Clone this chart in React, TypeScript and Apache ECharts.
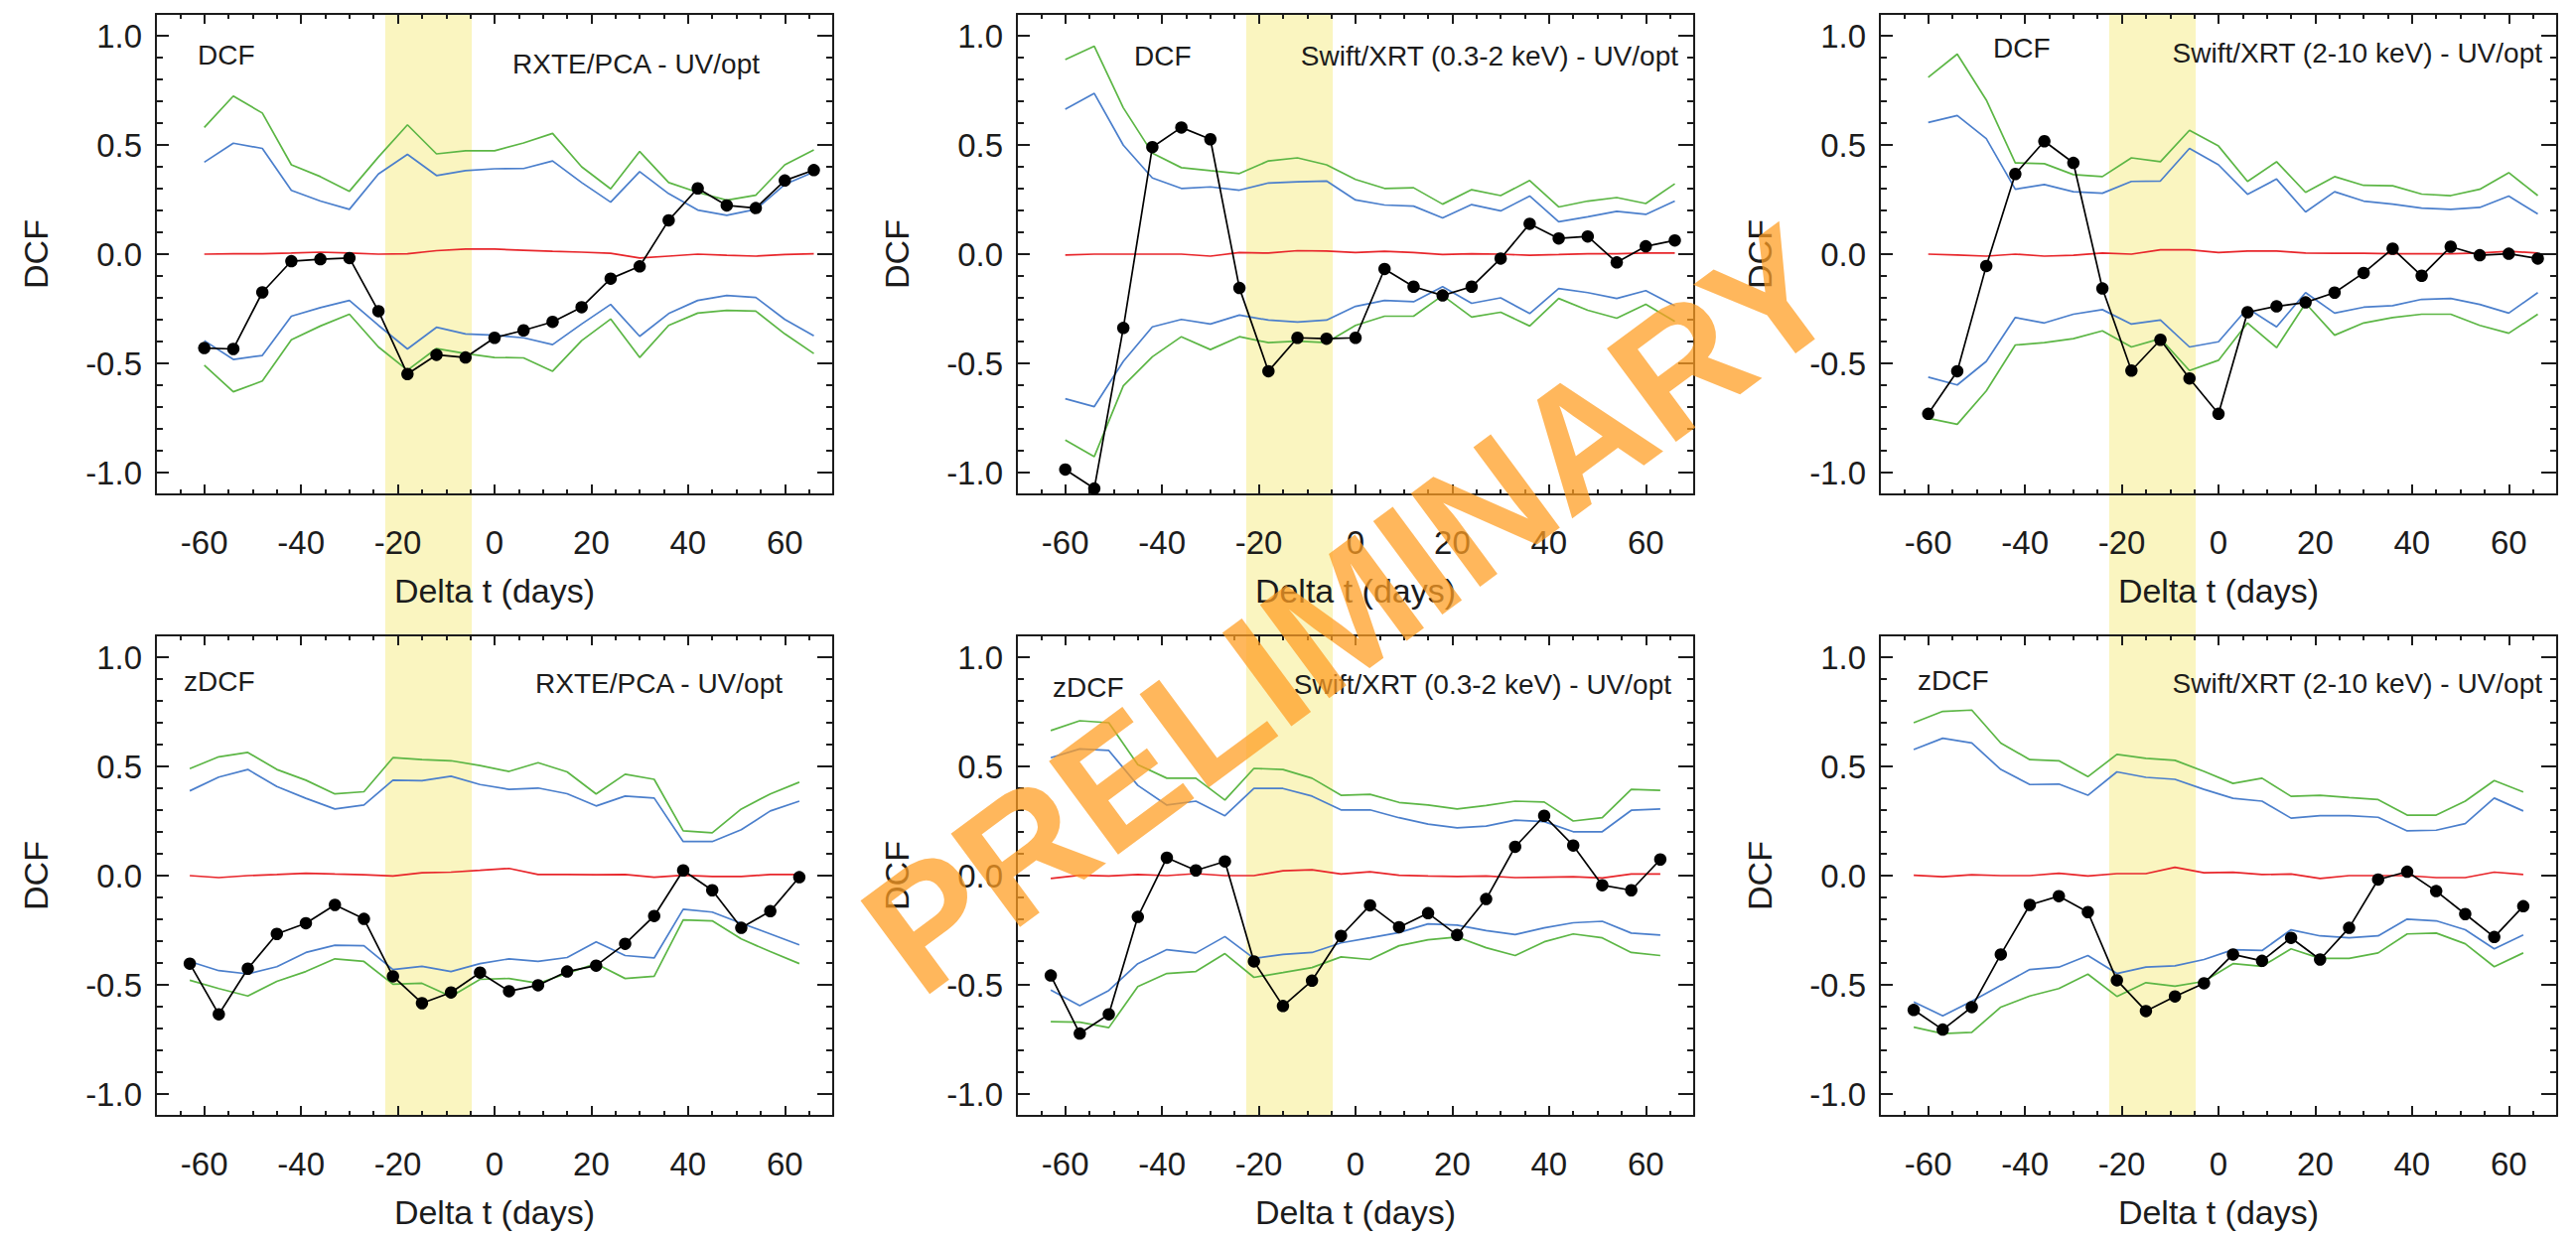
import React, { useEffect, useRef } from 'react';
import * as echarts from 'echarts';

// ---------- axes / categories ----------
const LAGS_DCF = [-60, -54, -48, -42, -36, -30, -24, -18, -12, -6, 0, 6, 12, 18, 24, 30, 36, 42, 48, 54, 60, 66];
const LAGS_ZDCF = [-63, -57, -51, -45, -39, -33, -27, -21, -15, -9, -3, 3, 9, 15, 21, 27, 33, 39, 45, 51, 57, 63];
const X_MAJOR_TICKS = [-60, -40, -20, 0, 20, 40, 60];
const X_MINOR_TICKS = [-65, -55, -50, -45, -35, -30, -25, -15, -10, -5, 5, 10, 15, 25, 30, 35, 45, 50, 55, 65];
const Y_MAJOR_TICKS = [-1.0, -0.5, 0, 0.5, 1.0];
const Y_MINOR_TICKS = [-0.9, -0.8, -0.7, -0.6, -0.4, -0.3, -0.2, -0.1, 0.1, 0.2, 0.3, 0.4, 0.6, 0.7, 0.8, 0.9];
const BAND_RANGE = [-22.6, -4.7];

// ---------- panel 1: DCF, RXTE/PCA ----------
const p1Dcf = [-0.43, -0.434, -0.175, -0.032, -0.023, -0.018, -0.261, -0.549, -0.461, -0.473, -0.383, -0.349, -0.31, -0.243, -0.112, -0.056, 0.155, 0.301, 0.223, 0.211, 0.337, 0.385];
const p1GreenUp = [0.58, 0.724, 0.646, 0.409, 0.355, 0.288, 0.445, 0.592, 0.459, 0.473, 0.473, 0.509, 0.553, 0.4, 0.299, 0.47, 0.328, 0.283, 0.247, 0.27, 0.409, 0.477];
const p1BlueUp = [0.421, 0.508, 0.484, 0.292, 0.243, 0.205, 0.367, 0.457, 0.36, 0.382, 0.391, 0.392, 0.427, 0.328, 0.238, 0.378, 0.277, 0.202, 0.178, 0.205, 0.319, 0.376];
const p1Red = [0, 0.002, 0.002, 0.005, 0.009, 0.005, 0, 0.002, 0.016, 0.023, 0.023, 0.018, 0.013, 0.009, 0.004, -0.018, -0.009, 0, -0.005, -0.009, -0.002, 0.002];
const p1BlueLo = [-0.396, -0.482, -0.464, -0.284, -0.245, -0.212, -0.326, -0.434, -0.335, -0.365, -0.371, -0.383, -0.414, -0.32, -0.23, -0.376, -0.272, -0.212, -0.189, -0.198, -0.299, -0.374];
const p1GreenLo = [-0.509, -0.63, -0.581, -0.392, -0.329, -0.275, -0.425, -0.531, -0.432, -0.455, -0.473, -0.475, -0.536, -0.396, -0.297, -0.473, -0.326, -0.27, -0.257, -0.261, -0.365, -0.455];

// ---------- panel 2: DCF, Swift/XRT 0.3-2 keV ----------
const p2Dcf = [-0.986, -1.073, -0.338, 0.49, 0.58, 0.526, -0.155, -0.536, -0.383, -0.387, -0.383, -0.068, -0.149, -0.189, -0.149, -0.02, 0.139, 0.072, 0.081, -0.038, 0.036, 0.063];
const p2GreenUp = [0.891, 0.952, 0.67, 0.463, 0.396, 0.382, 0.369, 0.427, 0.441, 0.409, 0.342, 0.301, 0.304, 0.229, 0.295, 0.268, 0.337, 0.216, 0.243, 0.259, 0.232, 0.322];
const p2BlueUp = [0.664, 0.736, 0.499, 0.349, 0.301, 0.308, 0.293, 0.326, 0.331, 0.335, 0.248, 0.225, 0.22, 0.166, 0.227, 0.198, 0.266, 0.148, 0.171, 0.196, 0.182, 0.243];
const p2Red = [-0.004, 0, 0, 0, 0, -0.009, 0.007, 0.005, 0.016, 0.014, 0.007, 0.013, 0.007, -0.002, 0.002, 0, -0.005, -0.002, 0.002, 0.002, 0.005, 0.005];
const p2BlueLo = [-0.662, -0.698, -0.491, -0.333, -0.299, -0.32, -0.279, -0.302, -0.311, -0.302, -0.239, -0.212, -0.218, -0.149, -0.225, -0.2, -0.272, -0.157, -0.176, -0.203, -0.167, -0.236];
const p2GreenLo = [-0.851, -0.927, -0.603, -0.47, -0.378, -0.437, -0.378, -0.405, -0.398, -0.405, -0.326, -0.284, -0.284, -0.189, -0.288, -0.266, -0.329, -0.203, -0.257, -0.293, -0.23, -0.308];

// ---------- panel 3: DCF, Swift/XRT 2-10 keV ----------
const p3Dcf = [-0.731, -0.536, -0.054, 0.367, 0.517, 0.418, -0.157, -0.533, -0.392, -0.569, -0.731, -0.266, -0.239, -0.221, -0.176, -0.086, 0.025, -0.099, 0.034, -0.005, 0.002, -0.02];
const p3GreenUp = [0.81, 0.916, 0.706, 0.418, 0.414, 0.364, 0.355, 0.441, 0.423, 0.567, 0.495, 0.333, 0.423, 0.283, 0.355, 0.315, 0.313, 0.275, 0.268, 0.297, 0.373, 0.268];
const p3BlueUp = [0.603, 0.635, 0.529, 0.297, 0.319, 0.286, 0.279, 0.333, 0.335, 0.484, 0.409, 0.274, 0.344, 0.193, 0.286, 0.243, 0.229, 0.211, 0.205, 0.214, 0.266, 0.184];
const p3Red = [0, -0.004, -0.009, 0, -0.009, -0.005, 0.005, 0, 0.02, 0.02, 0.007, 0.014, 0.014, 0.005, 0.004, 0.004, 0.002, 0.002, 0.002, 0.005, 0.013, 0.005];
const p3BlueLo = [-0.563, -0.599, -0.491, -0.29, -0.315, -0.275, -0.254, -0.32, -0.302, -0.425, -0.401, -0.248, -0.333, -0.176, -0.27, -0.243, -0.236, -0.207, -0.203, -0.23, -0.27, -0.176];
const p3GreenLo = [-0.752, -0.779, -0.626, -0.416, -0.405, -0.387, -0.351, -0.425, -0.387, -0.533, -0.486, -0.315, -0.428, -0.225, -0.371, -0.315, -0.29, -0.275, -0.275, -0.326, -0.362, -0.275];

// ---------- panel 4: zDCF, RXTE/PCA ----------
const p4Dcf = [-0.403, -0.635, -0.426, -0.267, -0.218, -0.134, -0.198, -0.461, -0.584, -0.535, -0.444, -0.529, -0.502, -0.439, -0.412, -0.312, -0.185, 0.024, -0.067, -0.239, -0.163, -0.007];
const p4GreenUp = [0.49, 0.544, 0.564, 0.486, 0.437, 0.374, 0.384, 0.54, 0.531, 0.526, 0.504, 0.477, 0.517, 0.475, 0.374, 0.464, 0.441, 0.205, 0.196, 0.305, 0.374, 0.428];
const p4BlueUp = [0.388, 0.451, 0.486, 0.408, 0.354, 0.305, 0.323, 0.437, 0.435, 0.455, 0.417, 0.395, 0.401, 0.375, 0.319, 0.364, 0.355, 0.156, 0.156, 0.21, 0.296, 0.341];
const p4Red = [0, -0.009, 0, 0.005, 0.011, 0.007, 0.004, -0.002, 0.013, 0.016, 0.024, 0.033, 0.005, 0.005, 0.004, 0.005, -0.007, 0.002, -0.004, -0.004, 0.005, 0.005];
const p4BlueLo = [-0.393, -0.435, -0.45, -0.417, -0.352, -0.319, -0.321, -0.43, -0.415, -0.439, -0.403, -0.381, -0.393, -0.375, -0.303, -0.366, -0.377, -0.154, -0.167, -0.218, -0.267, -0.317];
const p4GreenLo = [-0.479, -0.517, -0.551, -0.484, -0.439, -0.381, -0.393, -0.497, -0.493, -0.553, -0.475, -0.471, -0.493, -0.448, -0.403, -0.471, -0.461, -0.203, -0.207, -0.29, -0.348, -0.403];

// ---------- panel 5: zDCF, Swift/XRT 0.3-2 keV ----------
const p5Dcf = [-0.457, -0.723, -0.635, -0.189, 0.082, 0.024, 0.065, -0.393, -0.597, -0.481, -0.276, -0.136, -0.236, -0.172, -0.272, -0.107, 0.132, 0.274, 0.138, -0.044, -0.067, 0.074];
const p5GreenUp = [0.664, 0.709, 0.7, 0.508, 0.446, 0.446, 0.346, 0.491, 0.486, 0.446, 0.368, 0.372, 0.335, 0.323, 0.305, 0.321, 0.341, 0.337, 0.25, 0.265, 0.395, 0.39];
const p5BlueUp = [0.54, 0.58, 0.573, 0.413, 0.323, 0.341, 0.274, 0.399, 0.399, 0.364, 0.301, 0.301, 0.265, 0.236, 0.219, 0.227, 0.254, 0.247, 0.201, 0.201, 0.299, 0.305];
const p5Red = [-0.013, 0.002, -0.002, 0.005, 0, 0.009, 0, 0, 0.022, 0.027, 0.007, 0.018, 0.002, -0.002, -0.004, -0.002, -0.009, -0.007, -0.005, -0.011, 0.007, 0.007];
const p5BlueLo = [-0.524, -0.595, -0.526, -0.403, -0.339, -0.354, -0.279, -0.379, -0.361, -0.352, -0.308, -0.285, -0.261, -0.221, -0.227, -0.252, -0.27, -0.239, -0.216, -0.209, -0.263, -0.272];
const p5GreenLo = [-0.669, -0.671, -0.696, -0.508, -0.448, -0.439, -0.357, -0.466, -0.444, -0.421, -0.372, -0.384, -0.321, -0.294, -0.281, -0.33, -0.366, -0.303, -0.267, -0.285, -0.352, -0.366];

// ---------- panel 6: zDCF, Swift/XRT 2-10 keV ----------
const p6Dcf = [-0.615, -0.705, -0.602, -0.361, -0.134, -0.094, -0.167, -0.479, -0.62, -0.553, -0.493, -0.361, -0.39, -0.285, -0.384, -0.239, -0.018, 0.018, -0.071, -0.176, -0.281, -0.14];
const p6GreenUp = [0.7, 0.752, 0.758, 0.607, 0.531, 0.526, 0.453, 0.555, 0.537, 0.528, 0.477, 0.422, 0.446, 0.363, 0.368, 0.357, 0.348, 0.277, 0.277, 0.341, 0.435, 0.383];
const p6BlueUp = [0.577, 0.629, 0.607, 0.486, 0.417, 0.419, 0.368, 0.475, 0.45, 0.441, 0.395, 0.354, 0.341, 0.263, 0.274, 0.274, 0.267, 0.205, 0.208, 0.238, 0.355, 0.296];
const p6Red = [0.002, -0.005, 0.004, 0, 0, 0.011, -0.002, 0.009, 0.009, 0.038, 0.013, 0.015, 0.005, 0.007, -0.013, 0, 0, 0, -0.009, -0.009, 0.016, 0.005];
const p6BlueLo = [-0.578, -0.642, -0.575, -0.502, -0.43, -0.419, -0.366, -0.448, -0.419, -0.413, -0.384, -0.339, -0.343, -0.248, -0.276, -0.285, -0.276, -0.199, -0.207, -0.248, -0.335, -0.272];
const p6GreenLo = [-0.694, -0.723, -0.718, -0.602, -0.551, -0.517, -0.451, -0.553, -0.49, -0.506, -0.484, -0.403, -0.415, -0.335, -0.379, -0.379, -0.354, -0.267, -0.263, -0.312, -0.417, -0.354];

// ---------- texts ----------
const METHOD_LABELS = ['DCF', 'DCF', 'DCF', 'zDCF', 'zDCF', 'zDCF'];
const INSTRUMENT_LABELS = [
  'RXTE/PCA - UV/opt',
  'Swift/XRT (0.3-2 keV) - UV/opt',
  'Swift/XRT (2-10 keV) - UV/opt',
  'RXTE/PCA - UV/opt',
  'Swift/XRT (0.3-2 keV) - UV/opt',
  'Swift/XRT (2-10 keV) - UV/opt',
];
const X_TITLE = 'Delta t (days)';
const Y_TITLE = 'DCF';
const WATERMARK = 'PRELIMINARY';

// ---------- layout & style ----------
const FONT = '"Liberation Sans", Arial, Helvetica, sans-serif';
const INK = '#1c1c1c';
const GREEN = '#5cb645';
const BLUE = '#4b7fcc';
const RED = '#e8262b';
const BAND_COLOR = '#faf5c0';
const GRID_LEFTS = [157, 1024, 1893];
const ROW_TOPS = [14, 640];
const GRID_W = 682;
const GRID_H = 484;
// [method label dx, dy, instrument label right inset, dy]
const LABEL_POS = [
  [42, 41, 74, 50],
  [118, 42, 16, 42],
  [114, 34, 15, 39],
  [28, 46, 51, 48],
  [36, 52, 23, 49],
  [38, 45, 15, 48],
];

const PANELS = [
  { lags: LAGS_DCF, dcf: p1Dcf, gUp: p1GreenUp, bUp: p1BlueUp, red: p1Red, bLo: p1BlueLo, gLo: p1GreenLo },
  { lags: LAGS_DCF, dcf: p2Dcf, gUp: p2GreenUp, bUp: p2BlueUp, red: p2Red, bLo: p2BlueLo, gLo: p2GreenLo },
  { lags: LAGS_DCF, dcf: p3Dcf, gUp: p3GreenUp, bUp: p3BlueUp, red: p3Red, bLo: p3BlueLo, gLo: p3GreenLo },
  { lags: LAGS_ZDCF, dcf: p4Dcf, gUp: p4GreenUp, bUp: p4BlueUp, red: p4Red, bLo: p4BlueLo, gLo: p4GreenLo },
  { lags: LAGS_ZDCF, dcf: p5Dcf, gUp: p5GreenUp, bUp: p5BlueUp, red: p5Red, bLo: p5BlueLo, gLo: p5GreenLo },
  { lags: LAGS_ZDCF, dcf: p6Dcf, gUp: p6GreenUp, bUp: p6BlueUp, red: p6Red, bLo: p6BlueLo, gLo: p6GreenLo },
];

const pairs = (xs: number[], ys: number[]) => xs.map((x, i) => [x, ys[i]]);

function xAxisDef(gridIndex: number, position: string, major: boolean, labeled: boolean) {
  return {
    type: 'value',
    gridIndex,
    position,
    min: -70,
    max: 70,
    z: 2,
    axisLine: { show: major, onZero: false, lineStyle: { color: INK, width: 2 } },
    axisTick: {
      show: true,
      inside: true,
      length: major ? 10 : 5,
      customValues: major ? X_MAJOR_TICKS : X_MINOR_TICKS,
      lineStyle: { color: INK, width: 2 },
    },
    axisLabel: labeled
      ? { show: true, customValues: X_MAJOR_TICKS, margin: 32, fontSize: 33, color: INK, fontFamily: FONT }
      : { show: false },
    splitLine: { show: false },
    name: labeled ? X_TITLE : '',
    nameLocation: 'middle',
    nameGap: 80,
    nameTextStyle: { fontSize: 34, color: INK, fontFamily: FONT },
  };
}

function yAxisDef(gridIndex: number, position: string, major: boolean, labeled: boolean) {
  return {
    type: 'value',
    gridIndex,
    position,
    min: -1.1,
    max: 1.1,
    z: 2,
    axisLine: { show: major, onZero: false, lineStyle: { color: INK, width: 2 } },
    axisTick: {
      show: true,
      inside: true,
      length: major ? (position === 'left' ? 13 : 16) : 7,
      customValues: major ? Y_MAJOR_TICKS : Y_MINOR_TICKS,
      lineStyle: { color: INK, width: 2 },
    },
    axisLabel: labeled
      ? {
          show: true,
          customValues: Y_MAJOR_TICKS,
          margin: 14,
          fontSize: 33,
          color: INK,
          fontFamily: FONT,
          formatter: (v: number) => v.toFixed(1),
        }
      : { show: false },
    splitLine: { show: false },
    name: labeled ? Y_TITLE : '',
    nameLocation: 'middle',
    nameGap: 104,
    nameRotate: 90,
    nameTextStyle: { fontSize: 34, color: INK, fontFamily: FONT },
  };
}

function buildOption() {
  const grid: any[] = [];
  const xAxis: any[] = [];
  const yAxis: any[] = [];
  const series: any[] = [];
  const graphic: any[] = [];

  // Full-height shaded band per column (through both rows), drawn first and lowest
  GRID_LEFTS.forEach((left) => {
    const gi = grid.length;
    grid.push({
      left,
      top: ROW_TOPS[0],
      width: GRID_W,
      height: ROW_TOPS[1] + GRID_H - ROW_TOPS[0] - 1,
      containLabel: false,
      outerBoundsMode: 'none',
    });
    const xi = xAxis.length;
    xAxis.push({ type: 'value', gridIndex: gi, min: -70, max: 70, show: false });
    const yi = yAxis.length;
    yAxis.push({ type: 'value', gridIndex: gi, min: 0, max: 1, show: false });
    series.push({
      type: 'line',
      xAxisIndex: xi,
      yAxisIndex: yi,
      data: [],
      silent: true,
      z: -5,
      markArea: {
        silent: true,
        z: -5,
        itemStyle: { color: BAND_COLOR },
        data: [[{ xAxis: BAND_RANGE[0], yAxis: 0 }, { xAxis: BAND_RANGE[1], yAxis: 1 }]],
      },
    });
  });

  PANELS.forEach((p, i) => {
    const col = i % 3;
    const row = Math.floor(i / 3);
    const left = GRID_LEFTS[col];
    const top = ROW_TOPS[row];
    const gi = grid.length;
    grid.push({ left, top, width: GRID_W, height: GRID_H, containLabel: false, outerBoundsMode: 'none' });

    const xi = xAxis.length;
    xAxis.push(
      xAxisDef(gi, 'bottom', true, true),
      xAxisDef(gi, 'bottom', false, false),
      xAxisDef(gi, 'top', true, false),
      xAxisDef(gi, 'top', false, false)
    );
    const yi = yAxis.length;
    yAxis.push(
      yAxisDef(gi, 'left', true, true),
      yAxisDef(gi, 'left', false, false),
      yAxisDef(gi, 'right', true, false),
      yAxisDef(gi, 'right', false, false)
    );

    const lines: [number[], string][] = [
      [p.gUp, GREEN],
      [p.bUp, BLUE],
      [p.red, RED],
      [p.bLo, BLUE],
      [p.gLo, GREEN],
    ];
    lines.forEach(([vals, color]) => {
      series.push({
        type: 'line',
        xAxisIndex: xi,
        yAxisIndex: yi,
        data: pairs(p.lags, vals),
        showSymbol: false,
        symbol: 'none',
        lineStyle: { color, width: 1.7 },
        itemStyle: { color },
        silent: true,
        z: 3,
      });
    });
    series.push({
      type: 'line',
      xAxisIndex: xi,
      yAxisIndex: yi,
      data: pairs(p.lags, p.dcf),
      symbol: 'circle',
      symbolSize: 12.5,
      showSymbol: true,
      lineStyle: { color: '#000', width: 1.7 },
      itemStyle: { color: '#000' },
      silent: true,
      z: 5,
    });

    const lp = LABEL_POS[i];
    graphic.push({
      type: 'text',
      x: left + lp[0],
      y: top + lp[1],
      z: 50,
      style: {
        text: METHOD_LABELS[i],
        fill: INK,
        font: `28px ${FONT}`,
        align: 'left',
        verticalAlign: 'middle',
        textAlign: 'left',
        textVerticalAlign: 'middle',
      },
    });
    graphic.push({
      type: 'text',
      x: left + GRID_W - lp[2],
      y: top + lp[3],
      z: 50,
      style: {
        text: INSTRUMENT_LABELS[i],
        fill: INK,
        font: `28px ${FONT}`,
        align: 'right',
        verticalAlign: 'middle',
        textAlign: 'right',
        textVerticalAlign: 'middle',
      },
    });
  });

  graphic.push({
    type: 'text',
    x: 1360,
    y: 614,
    rotation: (36.5 * Math.PI) / 180,
    z: 100,
    style: {
      text: WATERMARK,
      fill: 'rgba(255, 158, 35, 0.74)',
      font: `bold 170px ${FONT}`,
      align: 'center',
      verticalAlign: 'middle',
      textAlign: 'center',
      textVerticalAlign: 'middle',
    },
  });

  return {
    animation: false,
    backgroundColor: '#ffffff',
    textStyle: { fontFamily: FONT },
    grid,
    xAxis,
    yAxis,
    series,
    graphic,
  };
}

export default function App() {
  const ref = useRef<HTMLDivElement>(null);
  useEffect(() => {
    if (!ref.current) return;
    const chart = echarts.init(ref.current, null, { renderer: 'svg' });
    chart.setOption(buildOption() as any);
    return () => chart.dispose();
  }, []);
  return (
    <div
      ref={ref}
      style={{ position: 'fixed', left: 0, top: 0, width: 2594, height: 1244, background: '#fff' }}
    />
  );
}
